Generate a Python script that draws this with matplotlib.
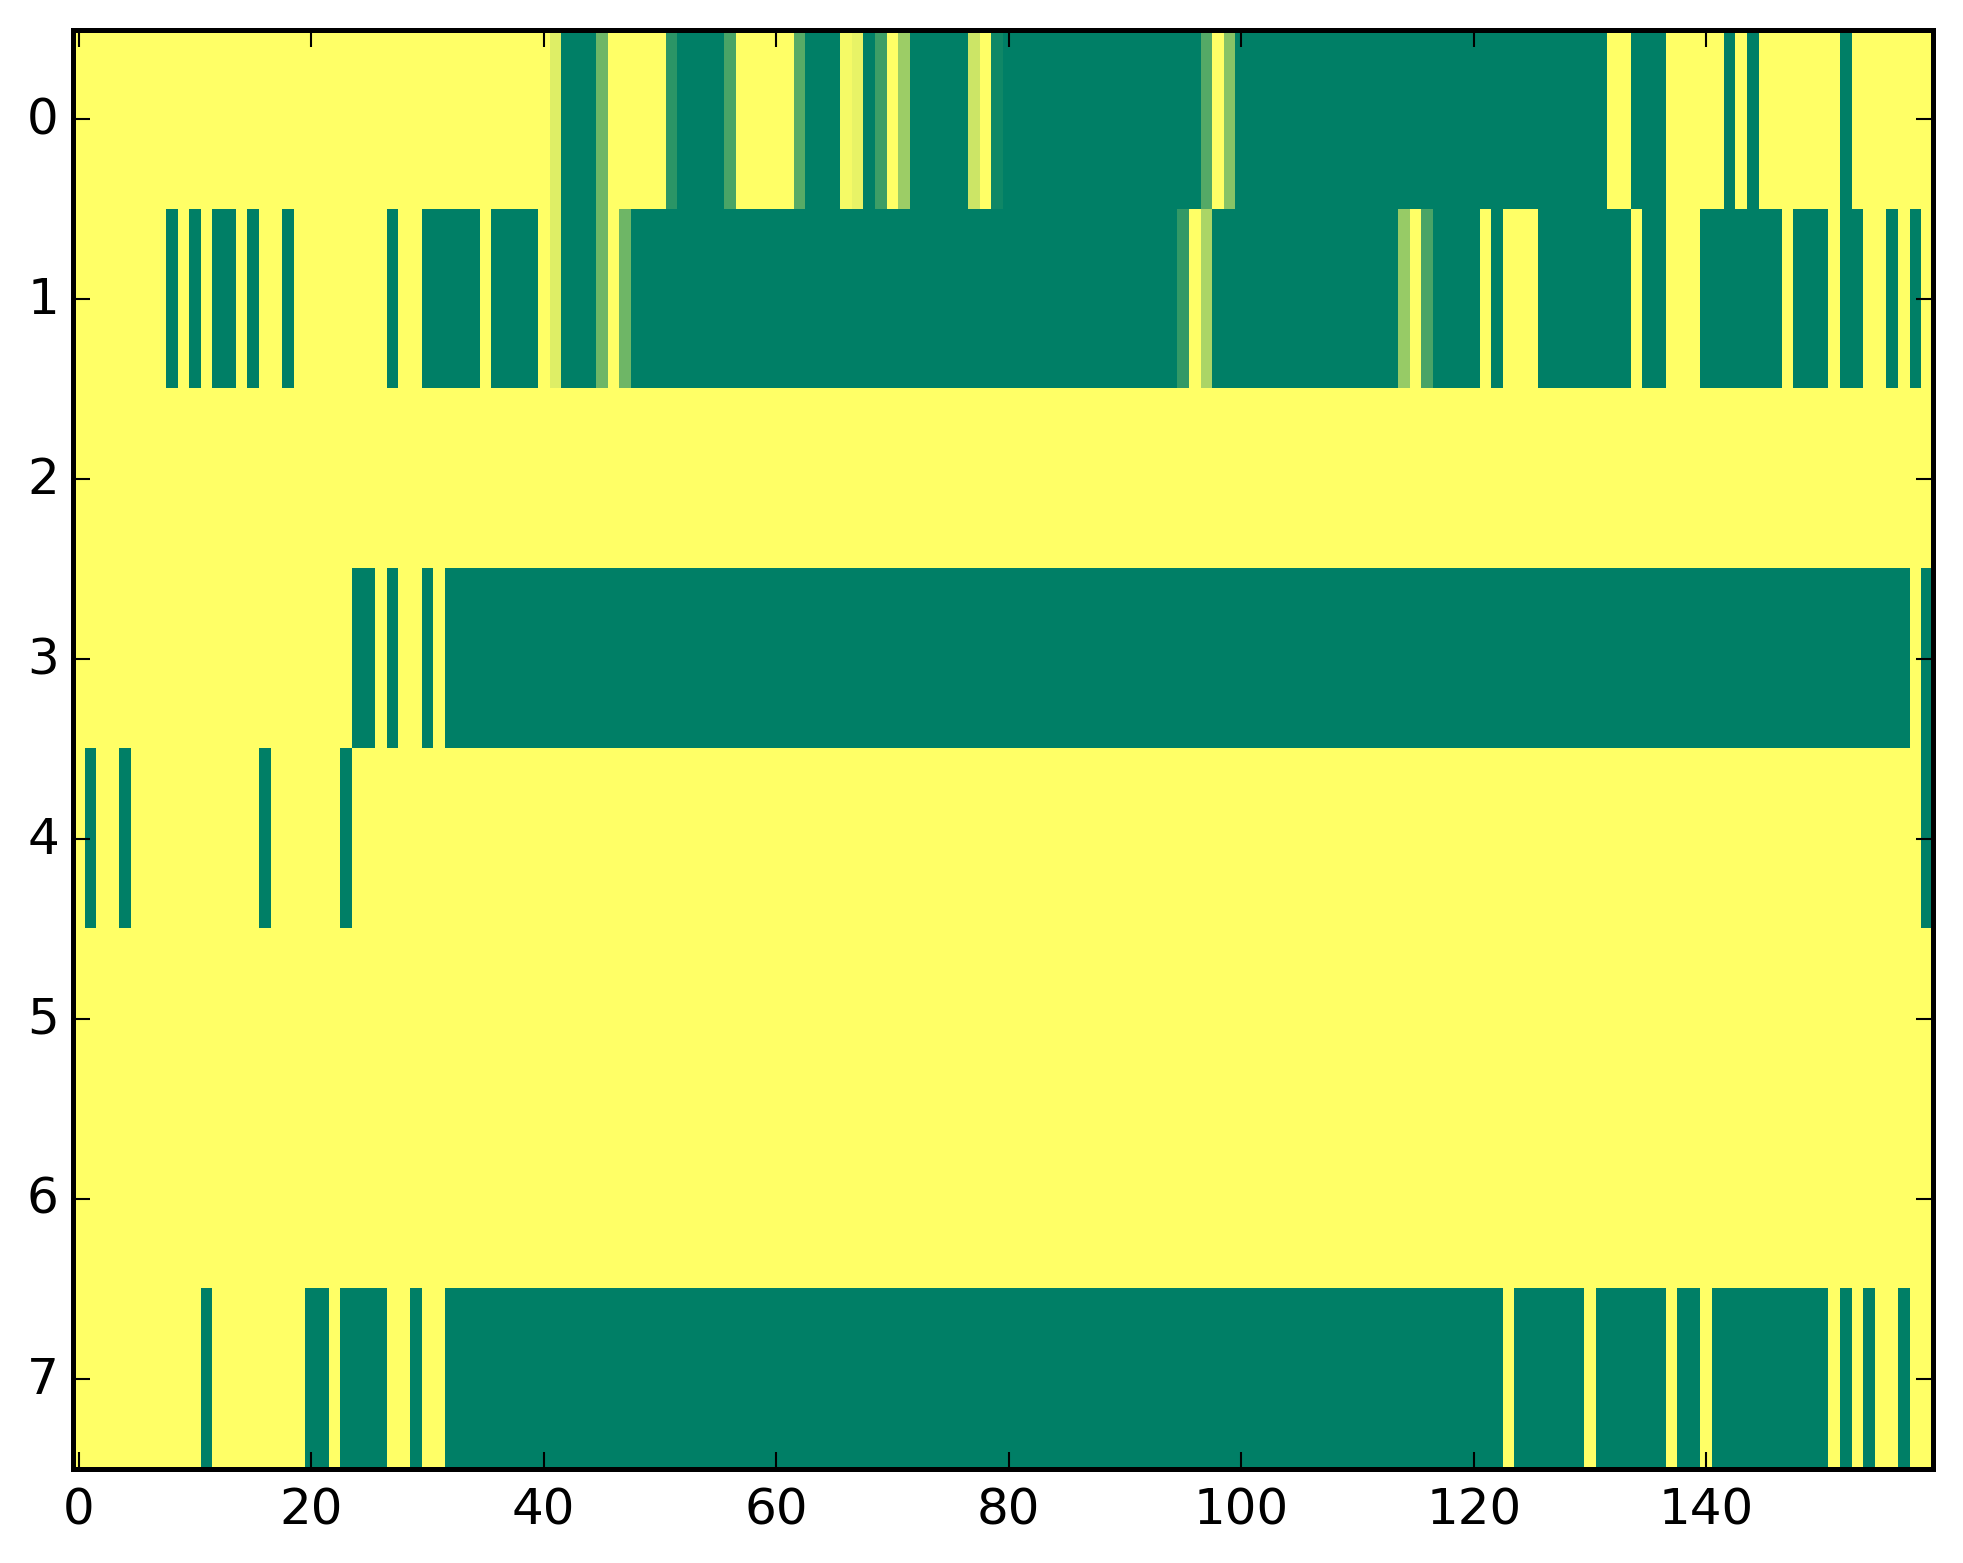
import numpy as np
import matplotlib
matplotlib.use('Agg')
import matplotlib.pyplot as plt

plt.style.use('classic')

n_rows = 8
n_cols = 160

# fully green columns per row, as (first, last) inclusive
row0_green = [(42, 44), (52, 55), (63, 65), (68, 68), (72, 76), (80, 96), (100, 131),
              (134, 136), (142, 142), (144, 144), (152, 152)]
row1_green = [(8, 8), (10, 10), (12, 13), (15, 15), (18, 18), (27, 27), (30, 34), (36, 39),
              (42, 44), (48, 94), (98, 113), (117, 120), (122, 122), (126, 133), (135, 136),
              (140, 146), (148, 150), (152, 153), (156, 156), (158, 158)]
row3_green = [(24, 25), (27, 27), (30, 30), (32, 157), (159, 159)]
row4_green = [(1, 1), (4, 4), (16, 16), (23, 23), (159, 159)]
row7_green = [(11, 11), (20, 21), (23, 26), (29, 29), (32, 122), (124, 129), (131, 136),
              (138, 139), (141, 150), (152, 152), (154, 154), (157, 157)]

# the few in-between columns
row0_partial = {41: 0.13, 45: 0.57, 51: 0.83, 56: 0.71, 62: 0.66, 66: 0.04, 67: 0.09,
                69: 0.76, 71: 0.39, 77: 0.20, 79: 0.94, 97: 0.67, 99: 0.47}
row1_partial = {41: 0.13, 45: 0.57, 47: 0.57, 95: 0.80, 97: 0.33, 114: 0.41, 116: 0.71}

green_runs = {0: row0_green, 1: row1_green, 3: row3_green, 4: row4_green, 7: row7_green}
partials = {0: row0_partial, 1: row1_partial}

data = np.zeros((n_rows, n_cols))
for r in green_runs:
    for a, b in green_runs[r]:
        data[r, a:b + 1] = 1.0
for r in partials:
    for c in partials[r]:
        data[r, c] = partials[r][c]

W, H = 1963, 1564
fig = plt.figure(figsize=(W / 300.0, H / 300.0), dpi=300, facecolor='white')
ax = fig.add_axes([73.0 / W, 1 - 1469.5 / H, (1933.0 - 73.0) / W, (1469.5 - 30.5) / H])
ax.imshow(data, cmap='summer_r', vmin=0, vmax=1, aspect='auto', interpolation='nearest')
ax.set_xticks(range(0, 160, 20))
ax.set_yticks(range(0, 8))
ax.set_xlim(-0.5, 159.5)
ax.set_ylim(7.5, -0.5)
ax.tick_params(axis='y', pad=3.4)
for s in ax.spines.values():
    s.set_linewidth(1.2)

plt.savefig('out.png', dpi=300, facecolor='white')
